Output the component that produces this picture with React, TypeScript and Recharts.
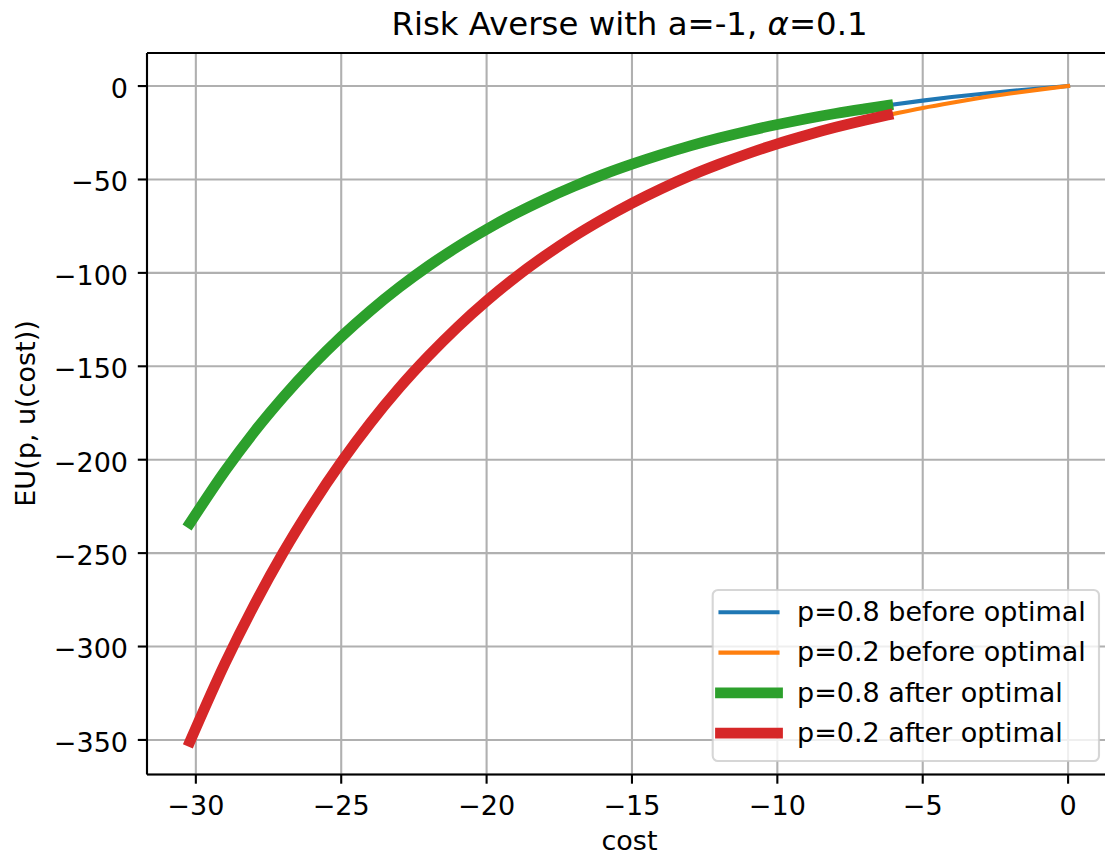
import React from 'react';
import { LineChart, Line, XAxis, YAxis, CartesianGrid, ReferenceLine } from 'recharts';

const FONT = '"DejaVu Sans", Verdana, sans-serif';
const FS = 27;

// tick labels
const xTicks = [-30, -25, -20, -15, -10, -5, 0];
const yTicks = [0, -50, -100, -150, -200, -250, -300, -350];

// "after optimal" curves (thick)
const afterCost = [-30.2, -29, -28, -27, -26, -25, -24, -23, -22, -21, -20, -19, -18, -17, -16, -15, -14, -13, -12, -11, -10, -9, -8, -7, -6.2];
const p08After = [-233.9, -206.1, -185.3, -166.6, -149.6, -134.2, -120.3, -107.7, -96.3, -86.0, -76.7, -68.2, -60.6, -53.7, -47.4, -41.8, -36.7, -32.0, -27.8, -24.0, -20.6, -17.5, -14.7, -12.2, -10.3];
const p02After = [-350.8, -309.1, -278.0, -249.8, -224.4, -201.3, -180.4, -161.5, -144.5, -129.0, -115.0, -102.3, -90.9, -80.5, -71.2, -62.7, -55.0, -48.0, -41.8, -36.1, -30.9, -26.3, -22.1, -18.3, -15.5];

// "before optimal" curves (thin)
const beforeCost = [-6.2, -5, -4, -3, -2, -1, 0];
const p08Before = [-10.3, -7.8, -5.9, -4.2, -2.7, -1.3, 0];
const p02Before = [-15.5, -11.7, -8.9, -6.3, -4.0, -1.9, 0];

const seriesNames = [
  'p=0.8 before optimal',
  'p=0.2 before optimal',
  'p=0.8 after optimal',
  'p=0.2 after optimal',
];
const seriesColors = ['#1f77b4', '#ff7f0e', '#2ca02c', '#d62728'];
const seriesWidths = [4.1, 4.1, 10.8, 10.8];

const X_DOMAIN: [number, number] = [-31.68, 1.51];
const Y_DOMAIN: [number, number] = [-368.5, 17.7];

const toRows = (xs: number[], ys: number[]) => xs.map((x, i) => ({ x, y: ys[i] }));
const dataBlue = toRows(beforeCost, p08Before);
const dataOrange = toRows(beforeCost, p02Before);
const dataGreen = toRows(afterCost, p08After);
const dataRed = toRows(afterCost, p02After);

const fmt = (v: number) => String(v).replace('-', '\u2212');

const XTick = (props: any) => {
  const { x, y, payload } = props;
  return (
    <text x={x} y={y} dy={31.3} textAnchor="middle" fontFamily={FONT} fontSize={FS} fill="#000">
      {fmt(payload.value)}
    </text>
  );
};

const YTick = (props: any) => {
  const { x, y, payload } = props;
  return (
    <text x={x} y={y} dx={-9.8} dy={11.8} textAnchor="end" fontFamily={FONT} fontSize={FS} fill="#000">
      {fmt(payload.value)}
    </text>
  );
};

const Overlay = () => {
  const rowY0 = 612.3;
  const rowStep = 40.3;
  return (
    <svg width={1105} height={855} style={{ position: 'absolute', left: 0, top: 0, pointerEvents: 'none' }}>
      <text x={629.5} y={35} textAnchor="middle" fontFamily={FONT} fontSize={32.4} fill="#000">
        Risk Averse with a=-1, <tspan fontStyle="italic">α</tspan>=0.1
      </text>
      <text x={629.5} y={850} textAnchor="middle" fontFamily={FONT} fontSize={FS} fill="#000">
        cost
      </text>
      <text
        x={35}
        y={413.5}
        transform="rotate(-90, 35, 413.5)"
        textAnchor="middle"
        fontFamily={FONT}
        fontSize={FS}
        fill="#000"
      >
        EU(p, u(cost))
      </text>
      <rect
        x={712.7}
        y={590}
        width={386.3}
        height={171}
        rx={5.3}
        ry={5.3}
        fill="rgba(255,255,255,0.8)"
        stroke="#cccccc"
        strokeOpacity={0.8}
        strokeWidth={2.1}
      />
      {seriesNames.map((name, i) => {
        const cy = rowY0 + rowStep * i;
        return (
          <g key={name}>
            <line
              x1={720.5}
              x2={777.5}
              y1={cy}
              y2={cy}
              stroke={seriesColors[i]}
              strokeWidth={seriesWidths[i]}
              strokeLinecap="square"
            />
            <text x={797} y={cy + 8.6} fontFamily={FONT} fontSize={FS} fill="#000">
              {name}
            </text>
          </g>
        );
      })}
    </svg>
  );
};

export default function App() {
  return (
    <div style={{ position: 'absolute', left: 0, top: 0, width: 1105, height: 855, overflow: 'hidden', background: '#fff' }}>
      <LineChart width={1114} height={855} margin={{ top: 53, right: 2, bottom: 0, left: 0 }}>
        <CartesianGrid stroke="#b0b0b0" strokeWidth={2.1} />
        <XAxis
          dataKey="x"
          type="number"
          domain={X_DOMAIN}
          ticks={xTicks}
          allowDataOverflow
          height={80.5}
          tickSize={9.2}
          tickMargin={0}
          tick={<XTick />}
          tickLine={{ stroke: '#000', strokeWidth: 2.1 }}
          axisLine={{ stroke: '#000', strokeWidth: 2.1 }}
        />
        <YAxis
          type="number"
          domain={Y_DOMAIN}
          ticks={yTicks}
          allowDataOverflow
          width={147}
          tickSize={9.2}
          tickMargin={0}
          tick={<YTick />}
          tickLine={{ stroke: '#000', strokeWidth: 2.1 }}
          axisLine={{ stroke: '#000', strokeWidth: 2.1 }}
        />
        <ReferenceLine y={Y_DOMAIN[1]} stroke="#000" strokeWidth={2.1} />
        <ReferenceLine x={X_DOMAIN[1]} stroke="#000" strokeWidth={2.1} />
        <Line
          data={dataBlue}
          dataKey="y"
          type="monotone"
          stroke={seriesColors[0]}
          strokeWidth={seriesWidths[0]}
          strokeLinecap="square"
          dot={false}
          activeDot={false}
          isAnimationActive={false}
        />
        <Line
          data={dataOrange}
          dataKey="y"
          type="monotone"
          stroke={seriesColors[1]}
          strokeWidth={seriesWidths[1]}
          strokeLinecap="square"
          dot={false}
          activeDot={false}
          isAnimationActive={false}
        />
        <Line
          data={dataGreen}
          dataKey="y"
          type="monotone"
          stroke={seriesColors[2]}
          strokeWidth={seriesWidths[2]}
          strokeLinecap="square"
          dot={false}
          activeDot={false}
          isAnimationActive={false}
        />
        <Line
          data={dataRed}
          dataKey="y"
          type="monotone"
          stroke={seriesColors[3]}
          strokeWidth={seriesWidths[3]}
          strokeLinecap="square"
          dot={false}
          activeDot={false}
          isAnimationActive={false}
        />
      </LineChart>
      <Overlay />
    </div>
  );
}
